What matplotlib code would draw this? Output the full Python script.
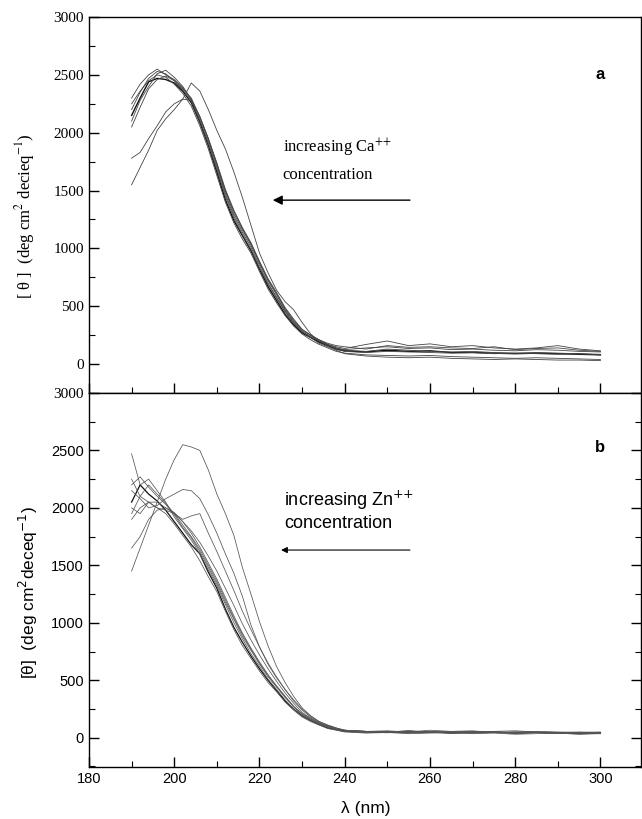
import matplotlib
matplotlib.use("Agg")
import matplotlib.pyplot as plt
from matplotlib.ticker import MultipleLocator

# wavelength grid (nm) shared by all traces
wavelength = [190, 192, 194, 196, 198, 200, 202, 204, 206, 208, 210, 212, 214,
              216, 218, 220, 222, 224, 226, 228, 230, 232, 234, 236, 238, 240,
              245, 250, 255, 260, 265, 270, 275, 280, 285, 290, 295, 300]

# panel a : Ca++ titration
ca_1 = [2150, 2300, 2440, 2470, 2460, 2430, 2360, 2260, 2090, 1890, 1660, 1420, 1240,
        1110, 980, 820, 670, 550, 430, 340, 270, 230, 190, 160, 130, 115,
        105, 120, 110, 115, 100, 100, 95, 90, 95, 90, 85, 80]
ca_2 = [2300, 2420, 2500, 2550, 2500, 2460, 2390, 2280, 2110, 1920, 1700, 1470, 1280,
        1140, 1010, 850, 700, 580, 460, 360, 280, 240, 200, 170, 140, 125,
        140, 150, 135, 140, 125, 130, 120, 115, 125, 120, 110, 105]
ca_3 = [2100, 2280, 2400, 2510, 2540, 2480, 2400, 2290, 2130, 1940, 1720, 1490, 1300,
        1160, 1030, 870, 720, 600, 470, 370, 290, 250, 210, 170, 150, 135,
        170, 200, 160, 175, 150, 160, 140, 130, 140, 160, 130, 115]
ca_4 = [2250, 2360, 2450, 2500, 2480, 2420, 2340, 2230, 2060, 1860, 1630, 1400, 1220,
        1080, 960, 800, 650, 530, 420, 330, 260, 210, 170, 140, 110, 95,
        80, 75, 70, 75, 65, 60, 55, 50, 55, 50, 45, 40]
ca_5 = [2050, 2220, 2380, 2460, 2490, 2450, 2370, 2270, 2100, 1900, 1680, 1450, 1260,
        1120, 990, 830, 690, 570, 450, 350, 280, 230, 180, 150, 120, 90,
        70, 60, 55, 60, 50, 45, 40, 45, 40, 35, 35, 30]
ca_6 = [2200, 2350, 2470, 2530, 2510, 2450, 2380, 2300, 2140, 1950, 1730, 1500, 1320,
        1170, 1040, 880, 730, 610, 480, 380, 300, 250, 210, 180, 160, 150,
        130, 160, 145, 150, 140, 135, 150, 125, 135, 140, 120, 110]
ca_7 = [1550, 1700, 1850, 2020, 2120, 2200, 2290, 2430, 2360, 2200, 2020, 1860, 1660,
        1440, 1200, 960, 790, 640, 540, 470, 360, 260, 200, 160, 130, 110,
        100, 110, 105, 100, 95, 100, 90, 95, 90, 85, 90, 80]
ca_8 = [1780, 1830, 1950, 2060, 2180, 2250, 2290, 2280, 2140, 1950, 1740, 1510, 1330,
        1180, 1050, 890, 740, 620, 490, 390, 300, 250, 200, 170, 140, 120,
        110, 130, 120, 110, 105, 110, 100, 95, 100, 95, 90, 85]
ca_traces = [ca_1, ca_2, ca_3, ca_4, ca_5, ca_6, ca_7, ca_8]

# panel b : Zn++ titration
zn_1 = [2050, 2200, 2120, 2060, 1980, 1880, 1780, 1680, 1600, 1440, 1300, 1120, 960,
        830, 710, 600, 500, 410, 320, 250, 190, 150, 115, 85, 70, 55,
        50, 45, 55, 50, 40, 45, 50, 40, 45, 40, 35, 40]
zn_2 = [2250, 2100, 2200, 2120, 2040, 1950, 1850, 1750, 1640, 1500, 1360, 1200, 1040,
        900, 770, 650, 540, 450, 360, 270, 210, 170, 130, 95, 75, 65,
        55, 60, 50, 65, 55, 50, 55, 60, 50, 45, 50, 45]
zn_3 = [1950, 2100, 2050, 2000, 1950, 1860, 1760, 1660, 1540, 1400, 1270, 1100, 940,
        800, 690, 580, 480, 400, 310, 240, 180, 140, 110, 80, 65, 50,
        40, 45, 35, 40, 45, 35, 40, 30, 35, 40, 30, 35]
zn_4 = [2200, 2270, 2180, 2100, 2030, 1940, 1830, 1740, 1620, 1480, 1340, 1180, 1030,
        880, 760, 640, 530, 440, 350, 270, 200, 160, 125, 95, 75, 60,
        55, 50, 60, 45, 55, 60, 45, 50, 55, 50, 45, 50]
zn_5 = [1900, 2000, 2050, 2050, 2000, 1950, 1880, 1800, 1700, 1580, 1450, 1300, 1150,
        990, 850, 720, 600, 490, 390, 300, 220, 170, 130, 100, 80, 60,
        50, 55, 45, 50, 40, 45, 50, 40, 45, 40, 45, 40]
zn_6 = [2000, 1950, 2050, 2000, 1980, 1950, 1900, 1930, 1950, 1780, 1620, 1450, 1280,
        1100, 940, 790, 650, 530, 420, 320, 240, 180, 140, 105, 80, 65,
        55, 50, 55, 45, 50, 55, 45, 50, 45, 40, 45, 45]
zn_7 = [2150, 2080, 2000, 2020, 2080, 2120, 2160, 2150, 2080, 1940, 1780, 1600, 1430,
        1230, 980, 790, 640, 520, 420, 330, 250, 190, 140, 110, 85, 65,
        55, 50, 45, 55, 50, 45, 50, 40, 45, 40, 45, 40]
zn_8 = [1450, 1650, 1850, 2050, 2250, 2420, 2550, 2530, 2500, 2330, 2120, 1950, 1760,
        1480, 1250, 1010, 800, 620, 480, 360, 260, 190, 140, 110, 85, 65,
        55, 50, 60, 50, 45, 55, 50, 45, 50, 45, 40, 45]
zn_9 = [2470, 2200, 2250, 2150, 2050, 1920, 1820, 1720, 1600, 1460, 1320, 1160, 1000,
        860, 730, 620, 510, 420, 330, 250, 190, 150, 115, 90, 70, 55,
        45, 50, 40, 45, 50, 40, 45, 40, 45, 40, 35, 40]
zn_10 = [1650, 1750, 1900, 1980, 2000, 1960, 1880, 1780, 1660, 1520, 1380, 1220, 1060,
         910, 780, 660, 550, 450, 360, 275, 205, 160, 125, 95, 75, 60,
         50, 45, 50, 45, 40, 50, 45, 40, 45, 40, 40, 35]
zn_traces = [zn_1, zn_2, zn_3, zn_4, zn_5, zn_6, zn_7, zn_8, zn_9, zn_10]

y_ticks = [0, 500, 1000, 1500, 2000, 2500, 3000]
x_ticks = [180, 200, 220, 240, 260, 280, 300]

SERIF = "Liberation Serif"
SANS = "Liberation Sans"

fig = plt.figure(figsize=(6.42, 8.19), dpi=100)
ax_a = fig.add_axes([0.1386, 0.5201, 0.8598, 0.4591])
ax_b = fig.add_axes([0.1386, 0.0635, 0.8598, 0.4567])

# traces
for i, trace in enumerate(ca_traces):
    color = "#111111" if i == 0 else "#444444"
    ax_a.plot(wavelength, trace, color=color, lw=1.0 if i == 0 else 0.6)
for i, trace in enumerate(zn_traces):
    color = "#111111" if i == 0 else "#555555"
    ax_b.plot(wavelength, trace, color=color, lw=0.9 if i == 0 else 0.55)

for ax in (ax_a, ax_b):
    ax.set_xlim(180, 309.5)
    ax.set_yticks(y_ticks)
    ax.xaxis.set_minor_locator(MultipleLocator(10))
    ax.yaxis.set_minor_locator(MultipleLocator(250))
    ax.tick_params(which="major", direction="in", length=7, width=1.0)
    ax.tick_params(which="minor", direction="in", length=4, width=0.8)
    for s in ax.spines.values():
        s.set_linewidth(1.0)
    ax.set_xticks(x_ticks)

ax_a.set_ylim(-250, 3000)
ax_b.set_ylim(-255, 3000)

# panel a: serif labels, no x labels
ax_a.tick_params(axis="x", labelbottom=False)
ax_a.set_yticklabels([str(v) for v in y_ticks], fontfamily=SERIF, fontsize=11)

# panel b: sans labels, right ticks too
ax_b.tick_params(axis="y", which="both", right=True)
ax_b.set_xticklabels([str(v) for v in x_ticks], fontfamily=SANS, fontsize=10.5)
ax_b.set_yticklabels([str(v) for v in y_ticks], fontfamily=SANS, fontsize=10.5)
ax_b.get_yticklabels()[-1].set_fontfamily(SERIF)
ax_b.get_yticklabels()[-1].set_fontsize(11)

# annotations panel a
ax_a.text(0.351, 0.652, "increasing Ca$^{{+}{+}}$", transform=ax_a.transAxes,
          fontfamily=SERIF, fontsize=12, va="center", math_fontfamily="stix")
ax_a.text(0.351, 0.580, "concentration", transform=ax_a.transAxes,
          fontfamily=SERIF, fontsize=12, va="center")
ax_a.annotate("", xy=(0.333, 0.513), xytext=(0.5815, 0.513), xycoords="axes fraction",
              arrowprops=dict(arrowstyle="-|>", color="black", lw=1.0,
                              mutation_scale=14, shrinkA=0, shrinkB=0))
ax_a.text(0.926, 0.846, "a", transform=ax_a.transAxes, fontfamily=SANS,
          fontweight="bold", fontsize=12, ha="center", va="center")

# annotations panel b
ax_b.text(0.353, 0.714, "increasing Zn$^{{+}{+}}$", transform=ax_b.transAxes,
          fontfamily=SANS, fontsize=13, va="center", math_fontfamily="dejavusans")
ax_b.text(0.353, 0.652, "concentration", transform=ax_b.transAxes,
          fontfamily=SANS, fontsize=13, va="center")
ax_b.annotate("", xy=(0.348, 0.580), xytext=(0.5815, 0.580), xycoords="axes fraction",
              arrowprops=dict(arrowstyle="-|>", color="black", lw=0.8,
                              mutation_scale=9, shrinkA=0, shrinkB=0))
ax_b.text(0.926, 0.853, "b", transform=ax_b.transAxes, fontfamily=SANS,
          fontweight="bold", fontsize=12, ha="center", va="center")

# axis titles
fig.text(0.039, 0.736, "[ θ ]  (deg cm$^2$ decieq$^{-1}$)", rotation=90,
         ha="center", va="center", fontfamily=SERIF, fontsize=12, math_fontfamily="stix")
fig.text(0.0436, 0.277, "[θ]  (deg cm$^2$deceq$^{-1}$)", rotation=90,
         ha="center", va="center", fontfamily=SANS, fontsize=12.5,
         math_fontfamily="dejavusans")
fig.text(0.570, 0.0134, "λ (nm)", ha="center", va="center",
         fontfamily=SANS, fontsize=12.5)

fig.savefig("out.png", dpi=100)
